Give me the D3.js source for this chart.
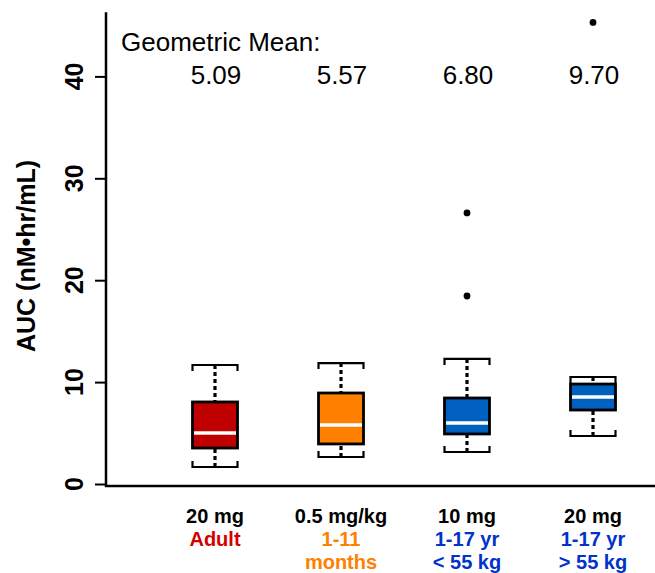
<!DOCTYPE html>
<html>
<head>
<meta charset="utf-8">
<script src="https://cdn.jsdelivr.net/npm/d3@7"></script>
<style>
  body { margin: 0; background: #fff; }
  text { font-family: "Liberation Sans", Arial, sans-serif; }
</style>
</head>
<body>
<svg id="chart" width="655" height="573"></svg>
<script>
// data
const groups = ["adult", "infant", "childLight", "childHeavy"];
const doseLabels = ["20 mg", "0.5 mg/kg", "10 mg", "20 mg"];
const popLabels = [["Adult"], ["1-11", "months"], ["1-17 yr", "< 55 kg"], ["1-17 yr", "> 55 kg"]];
const geoMeans = ["5.09", "5.57", "6.80", "9.70"];
const whiskerLow = [1.67, 2.65, 3.14, 4.71];
const q1 = [3.53, 3.93, 4.91, 7.26];
const medians = [5.0, 5.79, 5.99, 8.54];
const q3 = [8.05, 8.93, 8.44, 9.81];
const whiskerHigh = [11.68, 11.87, 12.27, 10.5];
const outliers = [[], [], [26.6, 18.45], [45.3]];
const yTicks = [0, 10, 20, 30, 40];

const boxColors = ["#C00000", "#FF8000", "#0060C0", "#0060C0"];
const labelColors = ["#D40000", "#FF8000", "#0033CC", "#0033CC"];

const svg = d3.select("#chart");

let y = d3.scaleLinear().domain([0, 40]).range([484, 76.4]);
let x = d3.scalePoint().domain(groups).range([215, 593]);

const halfW = 22.5;

// y axis
const yAxis = svg.append("g")
    .attr("transform", "translate(106,0)")
    .call(d3.axisLeft(y).tickValues(yTicks).tickSize(11).tickFormat(""));
yAxis.select(".domain").remove();
yAxis.selectAll(".tick line").attr("stroke", "#000").attr("stroke-width", 2);

svg.append("line")
    .attr("x1", 106).attr("x2", 106)
    .attr("y1", y(46.3)).attr("y2", 487)
    .attr("stroke", "#000").attr("stroke-width", 2.5);

// x axis line
svg.append("line")
    .attr("x1", 105).attr("x2", 655)
    .attr("y1", 486).attr("y2", 486)
    .attr("stroke", "#000").attr("stroke-width", 2.5);

// tick labels, rotated
svg.append("g")
    .selectAll("text")
    .data(yTicks)
    .join("text")
    .attr("transform", d => `translate(83,${y(d)}) rotate(-90)`)
    .attr("text-anchor", "middle")
    .attr("font-size", "25px")
    .attr("font-weight", "bold")
    .text(d => d);

// y label
svg.append("text")
    .attr("transform", "translate(35,256) rotate(-90)")
    .attr("text-anchor", "middle")
    .attr("font-size", "25px")
    .attr("font-weight", "bold")
    .text("AUC (nM\u2022hr/mL)");

// boxes
const box = svg.append("g")
    .selectAll("g")
    .data(groups)
    .join("g");

// dotted whiskers
box.append("line")
    .attr("x1", d => x(d)).attr("x2", d => x(d))
    .attr("y1", (d, i) => y(whiskerHigh[i]))
    .attr("y2", (d, i) => y(q3[i]))
    .attr("stroke", "#000").attr("stroke-width", 3.2)
    .attr("stroke-dasharray", "4,3");
box.append("line")
    .attr("x1", d => x(d)).attr("x2", d => x(d))
    .attr("y1", (d, i) => y(whiskerLow[i]))
    .attr("y2", (d, i) => y(q1[i]))
    .attr("stroke", "#000").attr("stroke-width", 3.2)
    .attr("stroke-dasharray", "4,3");

// bracket caps
box.append("path")
    .attr("d", (d, i) => {
        const c = y(whiskerHigh[i]);
        return `M${x(d) - halfW},${c + 6}V${c}H${x(d) + halfW}V${c + 6}`;
    })
    .attr("fill", "none").attr("stroke", "#000").attr("stroke-width", 2.2);
box.append("path")
    .attr("d", (d, i) => {
        const c = y(whiskerLow[i]);
        return `M${x(d) - halfW},${c - 6}V${c}H${x(d) + halfW}V${c - 6}`;
    })
    .attr("fill", "none").attr("stroke", "#000").attr("stroke-width", 2.2);

box.append("rect")
    .attr("x", d => x(d) - halfW)
    .attr("width", halfW * 2)
    .attr("y", (d, i) => y(q3[i]))
    .attr("height", (d, i) => y(q1[i]) - y(q3[i]))
    .attr("fill", (d, i) => boxColors[i])
    .attr("stroke", "#000").attr("stroke-width", 2.8);

box.append("line")
    .attr("x1", d => x(d) - halfW + 1.5)
    .attr("x2", d => x(d) + halfW - 1.5)
    .attr("y1", (d, i) => y(medians[i]))
    .attr("y2", (d, i) => y(medians[i]))
    .attr("stroke", "#fff").attr("stroke-width", 3.5);

// outliers
box.selectAll("circle")
    .data((d, i) => outliers[i].map(v => ({ g: d, v: v })))
    .join("circle")
    .attr("cx", d => x(d.g))
    .attr("cy", d => y(d.v))
    .attr("r", 3.4)
    .attr("fill", "#000");

// geometric mean
svg.append("text")
    .attr("x", 121).attr("y", 51)
    .attr("font-size", "26px")
    .text("Geometric Mean:");
svg.append("g")
    .selectAll("text")
    .data(groups)
    .join("text")
    .attr("x", d => x(d) + 1)
    .attr("y", 84)
    .attr("text-anchor", "middle")
    .attr("font-size", "26px")
    .text((d, i) => geoMeans[i]);

// category labels
const lab = svg.append("g")
    .selectAll("text")
    .data(groups)
    .join("text")
    .attr("text-anchor", "middle")
    .attr("font-size", "20px")
    .attr("font-weight", "bold");
lab.append("tspan")
    .attr("x", d => x(d))
    .attr("y", 523)
    .attr("fill", "#000")
    .text((d, i) => doseLabels[i]);
lab.each(function(d, i) {
    d3.select(this).selectAll("tspan.pop")
        .data(popLabels[i])
        .join("tspan")
        .attr("class", "pop")
        .attr("x", x(d))
        .attr("y", (t, j) => 546 + j * 23)
        .attr("fill", labelColors[i])
        .text(t => t);
});
</script>
</body>
</html>
